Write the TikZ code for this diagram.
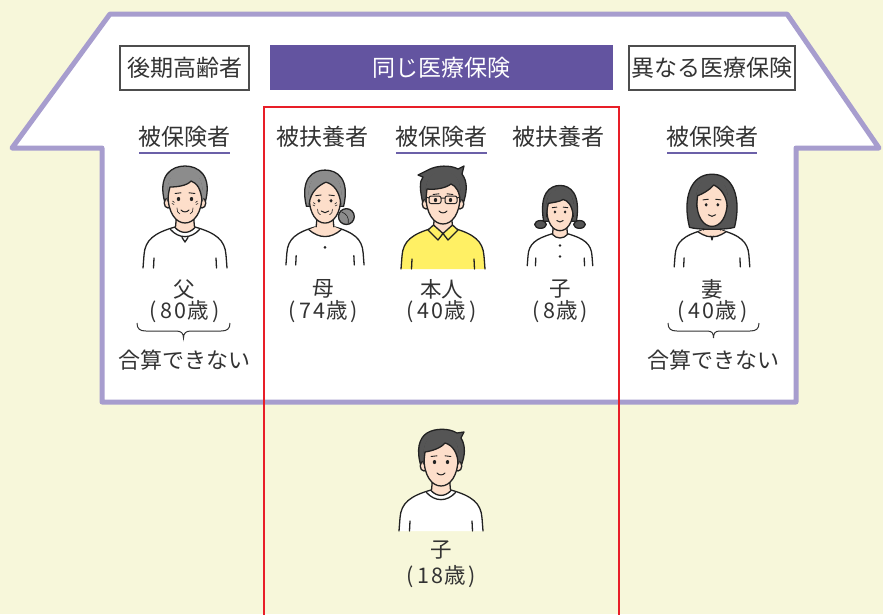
\documentclass[tikz,border=0pt]{standalone}
\usepackage{fontspec}
\setmainfont{Noto Sans CJK JP}
\definecolor{cream}{RGB}{247,247,218}
\definecolor{lavender}{RGB}{167,157,206}
\definecolor{violet}{RGB}{99,84,160}
\definecolor{ruleviolet}{RGB}{107,96,168}
\definecolor{frame}{RGB}{232,30,40}
\definecolor{ink}{RGB}{51,51,51}
\definecolor{boxgray}{RGB}{77,77,77}
\definecolor{skin}{RGB}{253,222,202}
\definecolor{hairgray}{RGB}{140,140,140}
\definecolor{hairdark}{RGB}{85,85,85}
\definecolor{shirtyellow}{RGB}{255,240,100}
\definecolor{lineblk}{RGB}{34,34,34}

\tikzset{
  outl/.style={draw=lineblk, line width=1.3pt, line join=round, line cap=round},
  fine/.style={draw=lineblk, line width=0.6pt, line cap=round},
  hdr/.style={text=ink, font=\fontsize{23}{27}\selectfont, inner sep=0pt},
  lbl/.style={text=ink, font=\fontsize{21.5}{25}\selectfont, inner sep=0pt},
  note/.style={text=ink, font=\fontsize{22}{26}\selectfont, inner sep=0pt},
  tagbox/.style={draw=boxgray, line width=1.3pt, fill=white, inner sep=0pt,
    minimum height=44pt, text=ink, font=\fontsize{23}{27}\selectfont},
  bracec/.style={draw=ink, line width=1pt},
}

% age text: slightly open spacing around the digits and inside the parentheses
\newcommand\dg[1]{\kern1pt#1\kern1pt}
\newcommand\agetext[1]{(\kern3pt#1\kern3pt)}

% body with shoulders; #1 shirt colour
\newcommand\figShirt[1]{%
  \fill[#1] (-42,101) -- (-41,88) .. controls (-40,73) and (-31,66) .. (-10,60) -- (10,60) .. controls (31,66) and (40,73) .. (41,88) -- (42,101) -- cycle;
  \draw[outl] (-42,101) -- (-41,88) .. controls (-40,73) and (-31,66) .. (-10,60);
  \draw[outl] (42,101) -- (41,88) .. controls (40,73) and (31,66) .. (10,60);
  \draw[outl] (-31,91) -- (-31.5,101) (31,91) -- (31.5,101);
}
% neck with a round neckline
\newcommand\figNeck{%
  \fill[skin] (-8,40) -- (-10,60.5) .. controls (-4,67) and (4,67) .. (10,60.5) -- (8,40) -- cycle;
  \draw[outl] (-8,44) -- (-9.5,60) (8,44) -- (9.5,60);
}
\newcommand\figEars{%
  \filldraw[fill=skin, outl] (-17,36) ellipse (3.8 and 5);
  \filldraw[fill=skin, outl] (17,36) ellipse (3.8 and 5);
}
\newcommand\figFaceShape{%
  \filldraw[fill=skin, outl] (-17,28) .. controls (-17,46) and (-9,56) .. (0,56) .. controls (9,56) and (17,46) .. (17,28) .. controls (17,10) and (10,5) .. (0,5) .. controls (-10,5) and (-17,10) .. (-17,28) -- cycle;
}
% hair over the forehead: #1 colour, #2 hairline from right temple to left temple
\newcommand\figCap[2]{%
  \fill[#1] (-18.3,34) .. controls (-18.3,8) and (-11,3.5) .. (0,3.5) .. controls (11,3.5) and (18.3,8) .. (18.3,34) -- #2 -- cycle;
  \draw[outl] #2;
}
\newcommand\figEyes[1]{%
  \fill[lineblk] (-#1,32) ellipse (1.7 and 2);
  \fill[lineblk] (#1,32) ellipse (1.7 and 2);
}
\newcommand\figSmile{\draw[outl, line width=1pt] (-4,43) .. controls (-2,45.5) and (2,45.5) .. (4,43);}
\newcommand\figBrows{\draw[fine, line width=0.9pt] (-10,26.5) -- (-4,25.8) (4,25.8) -- (10,26.5);}
\newcommand\figWrinkles{%
  \draw[fine] (-12.5,34) -- (-10.5,35.5) (-13,36.5) -- (-11,37.5) (12.5,34) -- (10.5,35.5) (13,36.5) -- (11,37.5);
  \draw[fine] (-8,41) .. controls (-8.5,44) and (-7,46) .. (-5,47) (8,41) .. controls (8.5,44) and (7,46) .. (5,47);
}

\begin{document}
\begin{tikzpicture}[x=1pt, y=-1pt]
\useasboundingbox (0,0) rectangle (883,614);
\fill[cream] (0,0) rectangle (883,614);

% house outline
\filldraw[fill=white, draw=lavender, line width=5pt, line join=round]
  (110,14) -- (787,14) -- (879,148) -- (796,148) -- (796,402) -- (102,402) -- (102,148) -- (12,148) -- cycle;

% insurance group tags
\node[tagbox, minimum width=129pt] (elder) at (184.5,68) {後期高齢者};
\node[tagbox, minimum width=341pt, fill=violet, draw=violet, text=white] (same) at (441.5,67.5) {同じ医療保険};
\node[tagbox, minimum width=166pt] (other) at (712,68) {異なる医療保険};

% status headings
\node[hdr] (h1) at (184.5,136.5) {被保険者};
\node[hdr] (h2) at (322,136.5) {被扶養者};
\node[hdr] (h3) at (441.5,136.5) {被保険者};
\node[hdr] (h4) at (558.5,136.5) {被扶養者};
\node[hdr] (h5) at (712,136.5) {被保険者};
\draw[ruleviolet, line width=1.5pt] (139,153) -- (230,153) (396,153) -- (487,153) (667,153) -- (757,153);

% father
\begin{scope}[shift={(185,167)}]
  \figShirt{white}
  \figNeck
  \draw[outl] (-10,60.5) .. controls (-4,67) and (4,67) .. (10,60.5);
  \draw[outl] (-14.5,62.5) .. controls (-6,72) and (6,72) .. (14.5,62.5);
  \draw[outl] (-3,70.5) -- (0,75) -- (3,70.5);
  \filldraw[fill=hairgray, outl] (-20,36) .. controls (-28,8) and (-13,-1) .. (0,-1) .. controls (13,-1) and (28,8) .. (20,36) -- cycle;
  \figEars
  \figFaceShape
  \figCap{hairgray}{(17,34) .. controls (16,22) and (12,16) .. (6,14) .. controls (2,19) and (-9,20) .. (-15,20) .. controls (-16.5,25) and (-17,30) .. (-17,34)}
  \figBrows
  \figEyes{6.5}
  \figWrinkles
  \figSmile
\end{scope}

% mother
\begin{scope}[shift={(325,171)}, scale=0.93]
  \figShirt{white}
  \fill[skin] (-8,40) -- (-10,60) -- (-17,63) .. controls (-6,73) and (6,73) .. (17,63) -- (10,60) -- (8,40) -- cycle;
  \draw[outl] (-8,44) -- (-9.5,60) (8,44) -- (9.5,60);
  \draw[outl] (-17.5,63) .. controls (-6,73) and (6,73) .. (17.5,63);
  \fill[lineblk] (0,82) circle (1.6);
  \filldraw[fill=hairgray, outl] (23,49) circle (8.5);
  \draw[fine] (18,44) .. controls (23,46) and (26,50) .. (25,56);
  \filldraw[fill=hairgray, outl] (-20,38) .. controls (-27,8) and (-13,-1) .. (0,-1) .. controls (13,-1) and (27,8) .. (20,38) -- cycle;
  \figFaceShape
  \figCap{hairgray}{(17,36) .. controls (16,22) and (9,14) .. (1,12) .. controls (-6,15) and (-16,22) .. (-17,36)}
  \figBrows
  \figEyes{6.5}
  \figWrinkles
  \figSmile
\end{scope}

% the insured person
\begin{scope}[shift={(443,168)}]
  \figShirt{shirtyellow}
  \fill[skin] (-8,40) -- (-9.5,58) -- (0,66) -- (9.5,58) -- (8,40) -- cycle;
  \draw[outl] (-8,44) -- (-9.5,58) (8,44) -- (9.5,58);
  \filldraw[fill=shirtyellow, outl] (-9.5,57) -- (-15,62) -- (-5,72) -- (0,65.5) -- cycle;
  \filldraw[fill=shirtyellow, outl] (9.5,57) -- (15,62) -- (5,72) -- (0,65.5) -- cycle;
  \filldraw[fill=hairdark, outl] (-20,36) .. controls (-23,22) and (-24,14) .. (-20,9) -- (-25,7) -- (-15,2) .. controls (-6,-3) and (8,-3) .. (15,1) -- (21,-2) -- (19,6) .. controls (25,14) and (24,24) .. (20,36) -- cycle;
  \figEars
  \figFaceShape
  \figCap{hairdark}{(17,34) .. controls (17,24) and (13,18) .. (8,16) .. controls (3,20) and (-7,22) .. (-16,21) .. controls (-16.6,26) and (-17,30) .. (-17,34)}
  \figBrows
  \figEyes{7.5}
  \draw[outl, line width=1pt, rounded corners=2pt] (-14,28) rectangle (-2,35.5) (2,28) rectangle (14,35.5);
  \draw[outl, line width=1pt] (-2,30) -- (2,30) (-14,30) -- (-17,29) (14,30) -- (17,29);
  \figSmile
\end{scope}

% daughter
\begin{scope}[shift={(560,187)}, scale=0.78]
  \figShirt{white}
  \figNeck
  \draw[outl] (-10,60.5) .. controls (-4,67) and (4,67) .. (10,60.5);
  \fill[lineblk] (0,75) circle (1.8) (0,89) circle (1.8);
  \filldraw[fill=hairdark, outl] (-25,48) ellipse (7.5 and 5);
  \filldraw[fill=hairdark, outl] (25,48) ellipse (7.5 and 5);
  \filldraw[fill=hairdark, outl] (-21,44) .. controls (-27,8) and (-13,-2) .. (0,-2) .. controls (13,-2) and (27,8) .. (21,44) -- cycle;
  \figFaceShape
  \figCap{hairdark}{(17,38) .. controls (16,24) and (10,17) .. (4,16) .. controls (0,19) and (-10,20) .. (-15,21) .. controls (-16.5,27) and (-17,33) .. (-17,38)}
  \figBrows
  \figEyes{6.5}
  \figSmile
\end{scope}

% wife
\begin{scope}[shift={(712,176)}, scale=0.9]
  \figShirt{white}
  \fill[skin] (-8,40) -- (-10,60) -- (-15,62) .. controls (-8,67) and (-3,68) .. (-1,67) -- (0,71) -- (1,67) .. controls (3,68) and (8,67) .. (15,62) -- (10,60) -- (8,40) -- cycle;
  \draw[outl] (-8,44) -- (-9.5,60) (8,44) -- (9.5,60);
  \draw[outl] (-15.5,62) .. controls (-8,67) and (-3,68) .. (-1,67) -- (0,71) -- (1,67) .. controls (3,68) and (8,67) .. (15.5,62);
  \filldraw[fill=hairdark, outl] (-25,57) .. controls (-33,25) and (-24,-2) .. (0,-2) .. controls (24,-2) and (33,25) .. (25,57) .. controls (16,60) and (-16,60) .. (-25,57) -- cycle;
  \figFaceShape
  \figCap{hairdark}{(17,34) .. controls (16,22) and (10,14) .. (2,10) .. controls (-3,16) and (-11,20) .. (-16,22) .. controls (-16.6,27) and (-17,31) .. (-17,34)}
  \figBrows
  \figEyes{6.5}
  \figSmile
\end{scope}

% eldest son, outside the house
\begin{scope}[shift={(441,430)}]
  \figShirt{white}
  \figNeck
  \draw[outl] (-10,60.5) .. controls (-4,67) and (4,67) .. (10,60.5);
  \draw[outl] (-14.5,62.5) .. controls (-6,72) and (6,72) .. (14.5,62.5);
  \filldraw[fill=hairdark, outl] (-20,36) .. controls (-25,20) and (-22,8) .. (-14,3) .. controls (-6,-2) and (8,-2) .. (16,3) -- (23,2) -- (20,8) .. controls (25,16) and (24,26) .. (20,36) -- cycle;
  \figEars
  \figFaceShape
  \figCap{hairdark}{(17,34) .. controls (17,24) and (12,15) .. (4,13) .. controls (0,18) and (-9,21) .. (-16,22) .. controls (-16.6,27) and (-17,31) .. (-17,34)}
  \figBrows
  \figEyes{6.5}
  \figSmile
\end{scope}

% names and ages
\node[lbl] (n1) at (184.5,289) {父};
\node[lbl] (a1) at (184.5,312) {\agetext{\dg8\dg0歳}};
\node[lbl] (n2) at (323,289) {母};
\node[lbl] (a2) at (323,312) {\agetext{\dg7\dg4歳}};
\node[lbl] (n3) at (441.5,289) {本人};
\node[lbl] (a3) at (441.5,312) {\agetext{\dg4\dg0歳}};
\node[lbl] (n4) at (560,289) {子};
\node[lbl] (a4) at (560,312) {\agetext{\dg8歳}};
\node[lbl] (n5) at (712.5,289) {妻};
\node[lbl] (a5) at (712.5,312) {\agetext{\dg4\dg0歳}};
\node[lbl] (n6) at (441,550) {子};
\node[lbl] (a6) at (441,577) {\agetext{\dg1\dg8歳}};

% braces and notes
\draw[bracec] (137,323) .. controls (137,329) and (140,331) .. (146,331) -- (176,331) .. controls (181,331) and (183.5,333) .. (183.5,338) .. controls (183.5,333) and (186,331) .. (191,331) -- (221,331) .. controls (227,331) and (230,329) .. (230,323);
\draw[bracec] (668,323) .. controls (668,329) and (671,331) .. (677,331) -- (707,331) .. controls (712,331) and (713.5,333) .. (713.5,338) .. controls (713.5,333) and (715,331) .. (720,331) -- (750,331) .. controls (756,331) and (759,329) .. (759,323);
\node[note] (c1) at (184,360) {合算できない};
\node[note] (c2) at (713,360) {合算できない};

% household covered by the same insurance
\draw[frame, line width=2pt] (264,620) -- (264,107) -- (619,107) -- (619,620);
\end{tikzpicture}
\end{document}
